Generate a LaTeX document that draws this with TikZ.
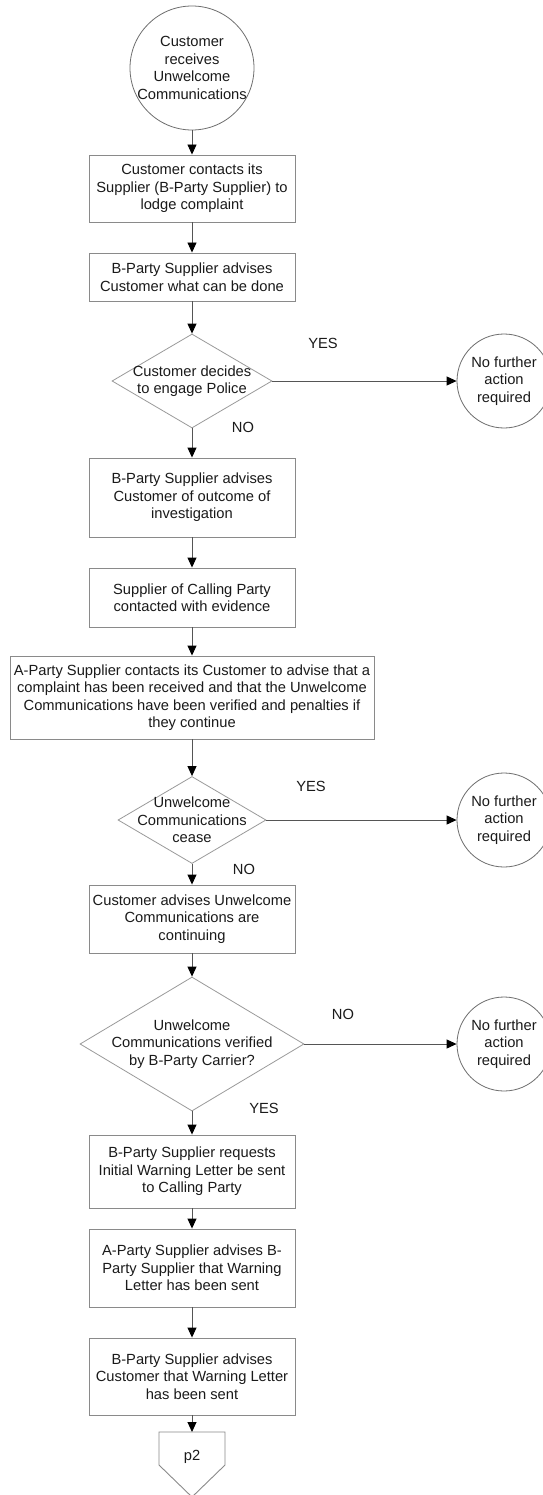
\documentclass[tikz,border=0pt]{standalone}
\usepackage{fontspec}
\setmainfont{Liberation Sans}
\usetikzlibrary{shapes.geometric,arrows.meta}
\definecolor{boxgray}{HTML}{8A8A8A}
\definecolor{shapegray}{HTML}{9A9A9A}
\definecolor{circgray}{HTML}{6E6E6E}
\definecolor{linegray}{HTML}{555555}
\definecolor{txtc}{HTML}{1A1A1A}
\begin{document}
\begin{tikzpicture}[x=1pt,y=-1pt,
  every node/.style={font=\fontsize{14.7}{17.5}\selectfont, text=txtc},
  box/.style={draw=boxgray, line width=0.9pt, rectangle, align=center, inner sep=1pt, minimum width=206pt},
  dia/.style={draw=shapegray, line width=0.8pt, diamond, inner sep=0pt},
  circ/.style={draw=circgray, line width=0.8pt, circle, inner sep=0pt},
  txt/.style={align=center, inner sep=0pt},
  lbl/.style={inner sep=0pt},
  arr/.style={draw=linegray, line width=0.9pt, -{Triangle[width=9pt,length=10pt,color=black]}},
]
\useasboundingbox (0,0) rectangle (542,1495);
\fill[white] (0,0) rectangle (542,1495);

% start
\node[circ, minimum size=124pt] (c0) at (192,68) {};
\node[txt] (c0t) at (192,68) {Customer\\receives\\Unwelcome\\Communications};

\node[box, minimum height=67pt] (b1) at (192,188.5) {Customer contacts its\\Supplier (B-Party Supplier) to\\lodge complaint};
\node[box, minimum height=48pt] (b2) at (192,277) {B-Party Supplier advises\\Customer what can be done};

% decision 1
\node[dia, minimum width=160pt, minimum height=94pt] (d1) at (192,381) {};
\node[txt] (d1t) at (192,381) {Customer decides\\to engage Police};
\node[circ, minimum size=94pt] (n1) at (504,381) {};
\node[txt] (n1t) at (504,381) {No further\\action\\required};
\node[lbl] (y1) at (323,343) {YES};
\node[lbl] (no1) at (243,427) {NO};

\node[box, minimum height=79pt] (b3) at (192,497.5) {B-Party Supplier advises\\Customer of outcome of\\investigation};
\node[box, minimum height=59pt] (b4) at (192,597.5) {Supplier of Calling Party\\contacted with evidence};
\node[box, minimum width=364pt, minimum height=83pt] (b5) at (192,697.5) {A-Party Supplier contacts its Customer to advise that a\\complaint has been received and that the Unwelcome\\Communications have been verified and penalties if\\they continue};

% decision 2
\node[dia, minimum width=148pt, minimum height=87pt] (d2) at (192,820) {};
\node[txt] (d2t) at (192,820) {Unwelcome\\Communications\\cease};
\node[circ, minimum size=94pt] (n2) at (504,820) {};
\node[txt] (n2t) at (504,820) {No further\\action\\required};
\node[lbl] (y2) at (311,786) {YES};
\node[lbl] (no2) at (244,869) {NO};

\node[box, minimum height=68pt] (b6) at (192,919) {Customer advises Unwelcome\\Communications are\\continuing};

% decision 3
\node[dia, minimum width=224pt, minimum height=134pt] (d3) at (192,1044) {};
\node[txt] (d3t) at (192,1044) {Unwelcome\\Communications verified\\by B-Party Carrier?};
\node[circ, minimum size=94pt] (n3) at (504,1044) {};
\node[txt] (n3t) at (504,1044) {No further\\action\\required};
\node[lbl] (no3) at (343,1014) {NO};
\node[lbl] (y3) at (264,1108) {YES};

\node[box, minimum height=73pt] (b7) at (192,1171.5) {B-Party Supplier requests\\Initial Warning Letter be sent\\to Calling Party};
\node[box, minimum height=78pt] (b8) at (192,1268) {A-Party Supplier advises B-\\Party Supplier that Warning\\Letter has been sent};
\node[box, minimum height=77pt] (b9) at (192,1376.5) {B-Party Supplier advises\\Customer that Warning Letter\\has been sent};

% off-page connector
\draw[draw=boxgray, line width=0.9pt] (159,1432) -- (225,1432) -- (225,1465) -- (192,1497) -- (159,1465) -- cycle;
\coordinate (p2top) at (192,1432);
\node[txt] (p2) at (192,1457) {p2};

% connectors
\draw[arr] (c0) -- (b1);
\draw[arr] (b1) -- (b2);
\draw[arr] (b2) -- (d1);
\draw[arr] (d1.east) -- (n1);
\draw[arr] (d1) -- (b3);
\draw[arr] (b3) -- (b4);
\draw[arr] (b4) -- (b5);
\draw[arr] (b5) -- (d2);
\draw[arr] (d2.east) -- (n2);
\draw[arr] (d2) -- (b6);
\draw[arr] (b6) -- (d3);
\draw[arr] (d3.east) -- (n3);
\draw[arr] (d3) -- (b7);
\draw[arr] (b7) -- (b8);
\draw[arr] (b8) -- (b9);
\draw[arr] (b9) -- (p2top);
\end{tikzpicture}
\end{document}
